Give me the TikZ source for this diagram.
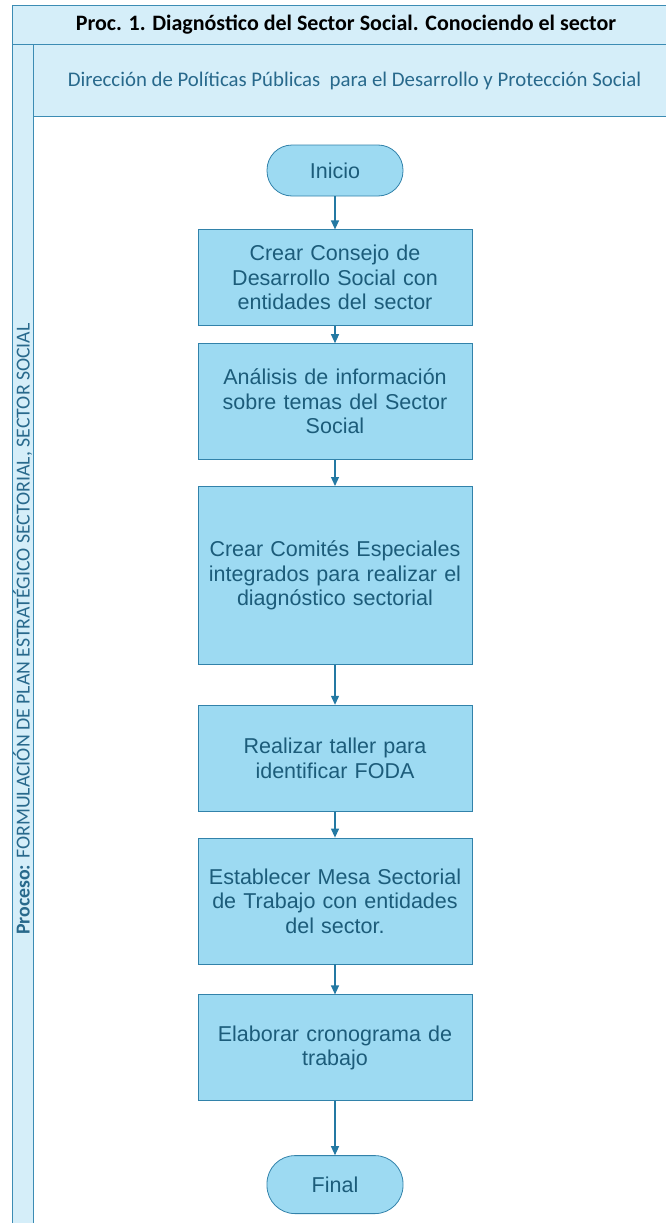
\documentclass[tikz,border=0pt]{standalone}
\usepackage{fontspec}
\setmainfont{Liberation Sans}
\newfontfamily\calibri{Carlito}
\usetikzlibrary{positioning,arrows.meta}
\definecolor{laneblue}{RGB}{213,238,249}
\definecolor{laneline}{RGB}{60,140,180}
\definecolor{boxfill}{RGB}{157,218,242}
\definecolor{boxline}{RGB}{50,130,170}
\definecolor{boxtext}{RGB}{28,92,122}
\definecolor{flowline}{RGB}{36,121,163}
\definecolor{subtext}{RGB}{40,105,140}

\begin{document}
\begin{tikzpicture}[x=1pt, y=1pt,
  every node/.style={align=center, text=boxtext, font=\fontsize{21.5}{24.5}\selectfont},
  paso/.style={draw=boxline, fill=boxfill, line width=0.8pt, minimum width=274pt, text width=270pt, inner sep=0pt},
  extremo/.style={draw=boxline, fill=boxfill, line width=0.8pt, rounded corners=25pt, minimum width=136pt, minimum height=51pt, inner sep=0pt},
  flujo/.style={-{Triangle[length=9pt,width=8pt]}, draw=flowline, line width=1.2pt},
  carril/.style={draw=laneline, fill=laneblue, line width=0.8pt}
]
\useasboundingbox (0,0) rectangle (666,-1223);
% carriles
\draw[carril] (12,-44) rectangle (33,-1240);
\draw[carril] (12,-5) rectangle (680,-44);
\draw[carril] (33,-44) rectangle (680,-116);
\node[text=black, font=\calibri\bfseries\fontsize{22}{26}\selectfont] (titulo) at (346,-25) {Proc. 1. Diagnóstico del Sector Social. Conociendo el sector};
\node[text=subtext, font=\calibri\fontsize{20.8}{24}\selectfont] (direccion) at (354.5,-81) {Dirección de Políticas Públicas\ \ para el Desarrollo y Protección Social};
\node[rotate=90, text=subtext, font=\calibri\fontsize{19.8}{22}\selectfont] (proceso) at (22.5,-629) {\textbf{Proceso:} FORMULACIÓN DE PLAN ESTRATÉGICO SECTORIAL, SECTOR SOCIAL};

% pasos
\node[extremo] (inicio) at (335,-170.5) {Inicio};
\node[paso, minimum height=96pt, below=33pt of inicio] (consejo) {Crear Consejo de\\Desarrollo Social con\\entidades del sector};
\node[paso, minimum height=116pt, below=17pt of consejo] (analisis) {Análisis de información\\sobre temas del Sector\\Social};
\node[paso, minimum height=178pt, below=26pt of analisis] (comites) {Crear Comités Especiales\\integrados para realizar el\\diagnóstico sectorial};
\node[paso, minimum height=106pt, below=40pt of comites] (taller) {Realizar taller para\\identificar FODA};
\node[paso, minimum height=126pt, below=26pt of taller] (mesa) {Establecer Mesa Sectorial\\de Trabajo con entidades\\del sector.};
\node[paso, minimum height=106pt, below=30pt of mesa] (cronograma) {Elaborar cronograma de\\trabajo};
\node[extremo, minimum height=58pt, rounded corners=28pt, below=54pt of cronograma] (final) {Final};

\draw[flujo] (inicio) -- (consejo);
\draw[flujo] (consejo) -- (analisis);
\draw[flujo] (analisis) -- (comites);
\draw[flujo] (comites) -- (taller);
\draw[flujo] (taller) -- (mesa);
\draw[flujo] (mesa) -- (cronograma);
\draw[flujo] (cronograma) -- (final);
\end{tikzpicture}
\end{document}
